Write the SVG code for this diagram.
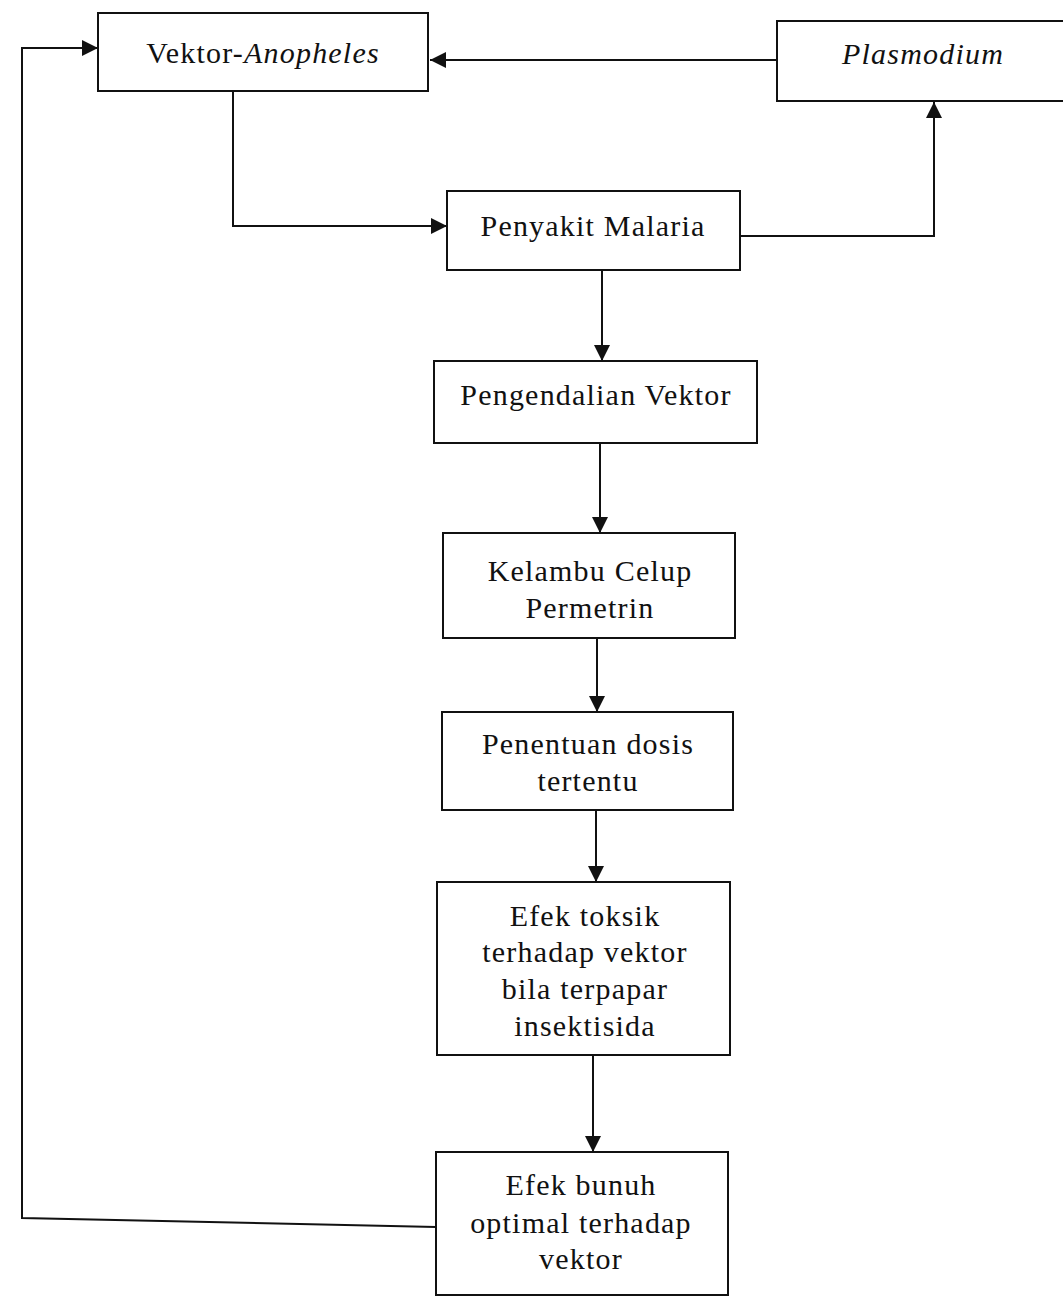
<svg xmlns="http://www.w3.org/2000/svg" width="1063" height="1297" viewBox="0 0 1063 1297">
<style>
.box{fill:#fff;stroke:#111;stroke-width:2}
.t{font-family:"Liberation Serif","Times New Roman",serif;font-size:30px;fill:#111;text-anchor:middle;letter-spacing:1.2px}
.i{font-style:italic}
.c{fill:none;stroke:#111;stroke-width:2}
</style>
<defs>
<marker id="a" viewBox="0 0 16 16" refX="16" refY="8" markerWidth="16" markerHeight="16" markerUnits="userSpaceOnUse" orient="auto">
<path d="M0,0 L16,8 L0,16 z" fill="#111"/>
</marker>
</defs>
<rect width="1063" height="1297" fill="#fff"/>
<g id="connectors">
<path class="c" d="M777,60 L430,60" marker-end="url(#a)"/>
<path class="c" d="M233,90 L233,226 L447,226" marker-end="url(#a)"/>
<path class="c" d="M740,236 L934,236 L934,102" marker-end="url(#a)"/>
<path class="c" d="M602,270 L602,361" marker-end="url(#a)"/>
<path class="c" d="M600,443 L600,533" marker-end="url(#a)"/>
<path class="c" d="M597,638 L597,712" marker-end="url(#a)"/>
<path class="c" d="M596,810 L596,882" marker-end="url(#a)"/>
<path class="c" d="M593,1055 L593,1152" marker-end="url(#a)"/>
<path class="c" d="M436,1227 L22,1218 L22,48 L98,48" marker-end="url(#a)"/>
</g>
<g id="vektor-anopheles">
<rect class="box" x="98" y="13" width="330" height="78"/>
<text class="t" x="263" y="63">Vektor-<tspan class="i">Anopheles</tspan></text>
</g>
<g id="plasmodium">
<rect class="box" x="777" y="21" width="300" height="80"/>
<text class="t i" x="923" y="64">Plasmodium</text>
</g>
<g id="penyakit-malaria">
<rect class="box" x="447" y="191" width="293" height="79"/>
<text class="t" x="593" y="236">Penyakit Malaria</text>
</g>
<g id="pengendalian-vektor">
<rect class="box" x="434" y="361" width="323" height="82"/>
<text class="t" x="596" y="405">Pengendalian Vektor</text>
</g>
<g id="kelambu">
<rect class="box" x="443" y="533" width="292" height="105"/>
<text class="t" x="590" y="581">Kelambu Celup</text>
<text class="t" x="590" y="618">Permetrin</text>
</g>
<g id="penentuan-dosis">
<rect class="box" x="442" y="712" width="291" height="98"/>
<text class="t" x="588" y="754">Penentuan dosis</text>
<text class="t" x="588" y="791">tertentu</text>
</g>
<g id="efek-toksik">
<rect class="box" x="437" y="882" width="293" height="173"/>
<text class="t" x="585" y="926">Efek toksik</text>
<text class="t" x="585" y="962">terhadap vektor</text>
<text class="t" x="585" y="999">bila terpapar</text>
<text class="t" x="585" y="1036">insektisida</text>
</g>
<g id="efek-bunuh">
<rect class="box" x="436" y="1152" width="292" height="143"/>
<text class="t" x="581" y="1195">Efek bunuh</text>
<text class="t" x="581" y="1233">optimal terhadap</text>
<text class="t" x="581" y="1269">vektor</text>
</g>
</svg>
